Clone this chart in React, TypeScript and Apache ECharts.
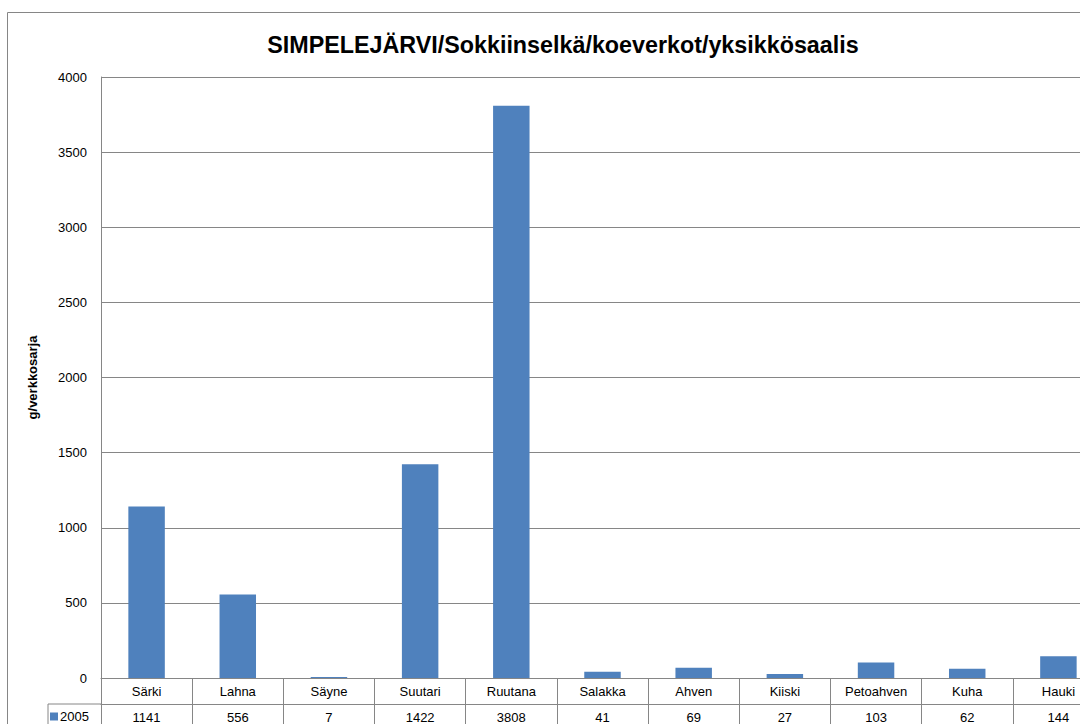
import React, { useEffect, useRef } from "react";
import * as echarts from "echarts";

const TITLE = "SIMPELEJÄRVI/Sokkiinselkä/koeverkot/yksikkösaalis";
const Y_NAME = "g/verkkosarja";
const SERIES_NAME = "2005";
const categories = ["Särki", "Lahna", "Säyne", "Suutari", "Ruutana", "Salakka", "Ahven", "Kiiski", "Petoahven", "Kuha", "Hauki"];
const values2005 = [1141, 556, 7, 1422, 3808, 41, 69, 27, 103, 62, 144];
const yTicks = { min: 0, max: 4000, interval: 500 };

const FONT = "'Liberation Sans', Arial, sans-serif";
const GRAY = "#868686";
const BLUE = "#4F81BD";

export default function App() {
  const ref = useRef<HTMLDivElement>(null);
  useEffect(() => {
    if (!ref.current) return;
    const chart = echarts.init(ref.current, undefined, { renderer: "svg" });
    const gridLeft = 101;
    const gridTop = 77;
    const gridW = 1003;
    const gridH = 601;
    const rowH = 26;
    const zeroY = gridTop + gridH;
    chart.setOption({
      animation: false,
      backgroundColor: "#fff",
      title: {
        text: TITLE,
        left: 558,
        top: 28,
        textAlign: "center",
        textStyle: { fontFamily: FONT, fontWeight: "bold", fontSize: 23.3, color: "#000" },
      },
      legend: {
        data: [SERIES_NAME],
        left: 50,
        top: zeroY + rowH + 6,
        itemWidth: 8,
        itemHeight: 8,
        itemGap: 0,
        padding: 0,
        icon: "rect",
        textStyle: { fontFamily: FONT, fontSize: 13, color: "#000", padding: [0, 0, 0, -3] },
      },
      grid: { left: gridLeft, top: gridTop, width: gridW, height: gridH, containLabel: false },
      xAxis: [
        {
          type: "category",
          data: categories,
          position: "bottom",
          boundaryGap: true,
          axisLine: { show: true, lineStyle: { color: GRAY, width: 1 } },
          axisTick: { show: true, inside: false, length: rowH * 2 + 10, lineStyle: { color: GRAY } },
          axisLabel: { fontFamily: FONT, fontSize: 13, color: "#000", margin: 7, interval: 0 },
          splitLine: { show: false },
        },
        {
          type: "category",
          data: values2005.map((v) => String(v)),
          position: "bottom",
          offset: rowH,
          boundaryGap: true,
          axisLine: { show: true, lineStyle: { color: GRAY, width: 1 } },
          axisTick: { show: false },
          axisLabel: { fontFamily: FONT, fontSize: 13, color: "#000", margin: 7, interval: 0 },
          splitLine: { show: false },
        },
      ],
      yAxis: {
        type: "value",
        min: yTicks.min,
        max: yTicks.max,
        interval: yTicks.interval,
        name: Y_NAME,
        nameLocation: "middle",
        nameGap: 62,
        nameRotate: 90,
        nameTextStyle: { fontFamily: FONT, fontWeight: "bold", fontSize: 13, color: "#000" },
        axisLine: { show: true, lineStyle: { color: GRAY, width: 1 } },
        axisTick: { show: false },
        axisLabel: { fontFamily: FONT, fontSize: 13, color: "#000", margin: 14, formatter: (v: number) => String(v) },
        splitLine: { show: true, lineStyle: { color: GRAY, width: 1 } },
      },
      graphic: [
        {
          type: "rect",
          shape: { x: 7.5, y: 12.5, width: 1108, height: 760 },
          style: { fill: "none", stroke: GRAY, lineWidth: 1 },
          silent: true,
        },
        {
          type: "line",
          shape: { x1: 48, y1: zeroY + rowH, x2: gridLeft, y2: zeroY + rowH },
          style: { stroke: GRAY, lineWidth: 1 },
          silent: true,
        },
        {
          type: "line",
          shape: { x1: 48, y1: zeroY + rowH, x2: 48, y2: zeroY + rowH * 3 },
          style: { stroke: GRAY, lineWidth: 1 },
          silent: true,
        },
      ],
      series: [
        {
          name: SERIES_NAME,
          type: "bar",
          data: values2005,
          xAxisIndex: 0,
          barWidth: "40%",
          itemStyle: { color: BLUE },
        },
      ],
    });
    return () => chart.dispose();
  }, []);
  return (
    <div style={{ position: "fixed", left: 0, top: 0, width: 1080, height: 724, overflow: "hidden", background: "#fff" }}>
      <div ref={ref} style={{ width: 1120, height: 780 }} />
    </div>
  );
}
